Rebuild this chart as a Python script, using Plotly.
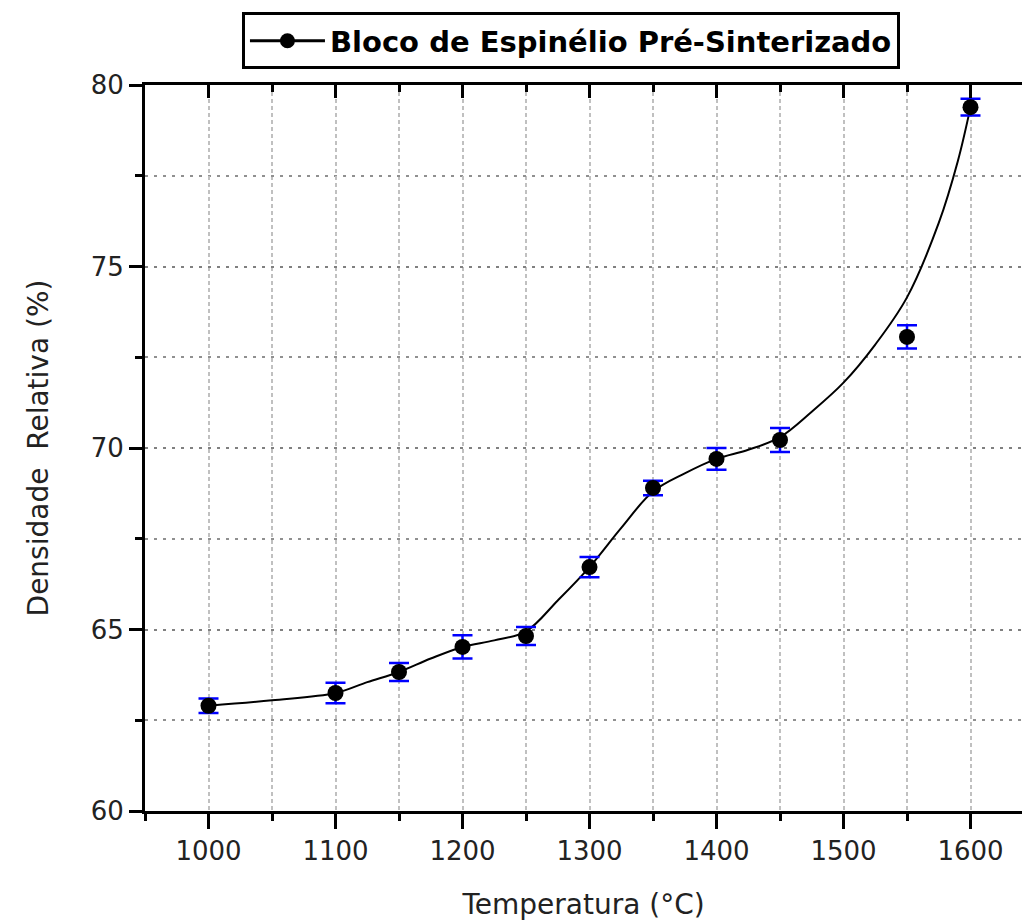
import plotly.graph_objects as go

# Measured points
temperatura = [1000, 1100, 1150, 1200, 1250, 1300, 1350, 1400, 1450, 1550, 1600]
densidade = [62.9, 63.25, 63.83, 64.52, 64.82, 66.72, 68.9, 69.7, 70.22, 73.06, 79.39]
erro = [0.2, 0.28, 0.25, 0.32, 0.25, 0.28, 0.2, 0.3, 0.33, 0.32, 0.23]

# Smooth curve
curva_t = [1000, 1050, 1100, 1125, 1150, 1175, 1200, 1225, 1250, 1275, 1300, 1325,
           1350, 1375, 1400, 1425, 1450, 1475, 1500, 1525, 1550, 1575, 1590, 1600]
curva_d = [62.9, 63.05, 63.25, 63.55, 63.83, 64.2, 64.52, 64.7, 64.95, 65.8, 66.72, 67.8,
           68.8, 69.3, 69.7, 69.95, 70.3, 71.0, 71.8, 72.85, 74.15, 76.2, 77.9, 79.39]

legend_name = "Bloco de Espinélio Pré-Sinterizado"
x_title = "Temperatura (°C)"
y_title = "Densidade  Relativa (%)"

FONT = "DejaVu Sans"

fig = go.Figure()

fig.add_trace(go.Scatter(
    x=curva_t, y=curva_d, mode="lines", line=dict(color="black", width=2, shape="spline", smoothing=1.0),
    showlegend=False, hoverinfo="skip"))

fig.add_trace(go.Scatter(
    x=temperatura, y=densidade, mode="markers",
    marker=dict(color="black", size=16, symbol="circle"),
    error_y=dict(type="data", array=erro, color="#0000ff", thickness=2.5, width=10),
    showlegend=False))

fig.add_trace(go.Scatter(
    x=[None], y=[None], mode="lines+markers", name=legend_name,
    line=dict(color="black", width=3), marker=dict(color="black", size=15)))

fig.update_layout(
    width=1022, height=921,
    margin=dict(l=145, r=0, t=85, b=110),
    paper_bgcolor="white", plot_bgcolor="white",
    font=dict(family=FONT, size=26, color="#222"),
    showlegend=True,
    legend=dict(x=0.4857, y=1.1, xanchor="center", yanchor="top",
                bordercolor="black", borderwidth=3, bgcolor="white",
                font=dict(family=FONT, size=29, color="black", weight="bold"),
                itemwidth=75),
    xaxis=dict(
        range=[950, 1640.55], tickmode="linear", tick0=1000, dtick=100,
        ticks="outside", ticklen=15, tickwidth=3, tickcolor="black",
        showline=True, linecolor="black", linewidth=3,
        showgrid=True, gridcolor="#c0c0c0", gridwidth=2, griddash="4px,3px",
        zeroline=False,
        minor=dict(dtick=50, tick0=950, ticks="outside", ticklen=7, tickwidth=3, tickcolor="black",
                   showgrid=True, gridcolor="#c0c0c0", gridwidth=2, griddash="4px,3px"),
        title=dict(text=x_title, font=dict(size=28, color="#222"), standoff=30),
        tickfont=dict(size=26, color="#222"),
    ),
    xaxis2=dict(
        overlaying="x", side="top", range=[950, 1640.55], tickmode="linear", tick0=1000, dtick=100,
        ticks="inside", ticklen=13, tickwidth=3, tickcolor="black",
        showline=True, linecolor="black", linewidth=3, showticklabels=False,
        showgrid=False, zeroline=False,
        minor=dict(dtick=50, tick0=950, ticks="inside", ticklen=7, tickwidth=3, tickcolor="black"),
    ),
    yaxis=dict(
        range=[60, 80], tickmode="linear", tick0=60, dtick=5,
        ticks="outside", ticklen=13, tickwidth=3, tickcolor="black",
        showline=True, linecolor="black", linewidth=3,
        showgrid=True, gridcolor="#808080", gridwidth=2, griddash="3px,6px",
        zeroline=False,
        minor=dict(dtick=2.5, ticks="outside", ticklen=7, tickwidth=3, tickcolor="black",
                   showgrid=True, gridcolor="#909090", gridwidth=2, griddash="3px,6px"),
        title=dict(text=y_title, font=dict(size=28, color="#222"), standoff=34),
        tickfont=dict(size=26, color="#222"),
    ),
)

# dummy trace to activate top axis
fig.add_trace(go.Scatter(x=[None], y=[None], xaxis="x2", showlegend=False, hoverinfo="skip"))

fig.write_html("out.html")
